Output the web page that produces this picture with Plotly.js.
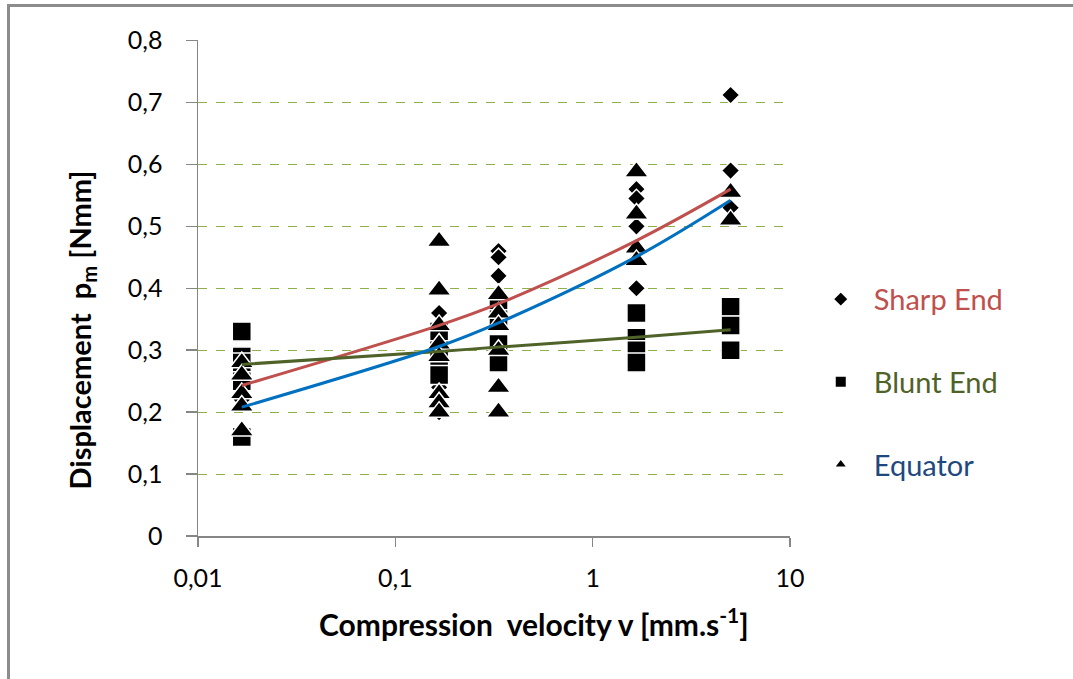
<!DOCTYPE html>
<html><head><meta charset="utf-8">
<script src="https://cdn.plot.ly/plotly-3.0.1.min.js"></script>
<style>
html,body{margin:0;padding:0;background:#fff;overflow:hidden;}
#frame{position:absolute;left:7px;top:4px;width:1063px;height:672px;border-top:3px solid #8c8c8c;border-left:3px solid #8c8c8c;}
#chart{position:absolute;left:0;top:0;width:1073px;height:679px;}
</style></head>
<body>
<div id="frame"></div>
<div id="chart"></div>
<script>
// compression velocities [mm/s]
const velocities = [1/60, 1/6, 1/3, 5/3, 5];

// measured points (x, y) per series
const sharpX = [1/60,1/60,1/60,1/60, 1/6,1/6,1/6,1/6,1/6, 1/3,1/3,1/3,1/3, 5/3,5/3,5/3,5/3, 5,5,5];
const sharpY = [0.29,0.25,0.22,0.17, 0.36,0.33,0.29,0.24,0.20, 0.46,0.45,0.42,0.38, 0.56,0.545,0.50,0.40, 0.712,0.59,0.53];

const bluntX = [1/60,1/60,1/60,1/60,1/60, 1/6,1/6,1/6,1/6, 1/3,1/3,1/3,1/3, 5/3,5/3,5/3,5/3, 5,5,5];
const bluntY = [0.33,0.29,0.28,0.25,0.16, 0.33,0.30,0.27,0.26, 0.37,0.35,0.31,0.28, 0.36,0.32,0.30,0.28, 0.37,0.34,0.30];

const equatorX = [1/60,1/60,1/60,1/60,1/60, 1/6,1/6,1/6,1/6,1/6,1/6,1/6,1/6, 1/3,1/3,1/3,1/3,1/3,1/3, 5/3,5/3,5/3,5/3, 5,5];
const equatorY = [0.28,0.26,0.23,0.21,0.17, 0.476,0.397,0.34,0.31,0.29,0.23,0.215,0.20, 0.39,0.36,0.34,0.30,0.24,0.20, 0.588,0.52,0.465,0.445, 0.555,0.51];

// trend lines read at each velocity
const sharpTrend   = [0.243, 0.340, 0.375, 0.477, 0.560];
const bluntTrend   = [0.277, 0.298, 0.305, 0.321, 0.333];
const equatorTrend = [0.208, 0.306, 0.344, 0.451, 0.542];

const xTickVals = [0.01, 0.1, 1, 10];
const xTickText = ['0,01', '0,1', '1', '10'];
const yTickVals = [0, 0.1, 0.2, 0.3, 0.4, 0.5, 0.6, 0.7, 0.8];
const yTickText = ['0', '0,1', '0,2', '0,3', '0,4', '0,5', '0,6', '0,7', '0,8'];

const FONT = 'Lato, "Open Sans", sans-serif';
const outline = {color: '#ffffff', width: 1.5};

const traces = [
  {x: sharpX, y: sharpY, mode: 'markers', type: 'scatter', legendgroup: 'a',
   name: '<span style="color:#C0504D">Sharp End</span>',
   marker: {symbol: 'diamond', size: 14, color: '#000', line: outline}},
  {x: bluntX, y: bluntY, mode: 'markers', type: 'scatter', legendgroup: 'b',
   name: '<span style="color:#4F6228">Blunt End</span>',
   marker: {symbol: 'square', size: 19, color: '#000', line: outline}},
  {x: equatorX, y: equatorY, mode: 'markers', type: 'scatter', legendgroup: 'c',
   name: '<span style="color:#1F497D">Equator</span>',
   marker: {symbol: 'triangle-up', size: 21, color: '#000', line: outline}},
  {x: velocities, y: sharpTrend, mode: 'lines', type: 'scatter', showlegend: false,
   line: {color: '#C0504D', width: 3, shape: 'spline'}},
  {x: velocities, y: bluntTrend, mode: 'lines', type: 'scatter', showlegend: false,
   line: {color: '#4F6228', width: 3, shape: 'spline'}},
  {x: velocities, y: equatorTrend, mode: 'lines', type: 'scatter', showlegend: false,
   line: {color: '#0070C0', width: 3, shape: 'spline'}}
];

const layout = {
  width: 1073, height: 679,
  paper_bgcolor: 'rgba(0,0,0,0)', plot_bgcolor: 'rgba(0,0,0,0)',
  margin: {l: 198, r: 283, t: 40, b: 143},
  font: {family: FONT, color: '#000'},
  separators: ',.',
  showlegend: true,
  legend: {x: 1.03, y: 0.31, xanchor: 'left', yanchor: 'middle',
    font: {family: FONT, size: 29}, traceorder: 'grouped', tracegroupgap: 42,
    itemsizing: 'constant', itemwidth: 56, bgcolor: 'rgba(0,0,0,0)'},
  xaxis: {type: 'log', range: [-2, 1], tickvals: xTickVals, ticktext: xTickText,
    showgrid: false, zeroline: false, showline: true, linecolor: '#868686', linewidth: 1.5,
    ticks: 'outside', ticklen: 9, tickcolor: '#868686', tickwidth: 1.5,
    ticklabelstandoff: 10,
    tickfont: {family: FONT, size: 25, color: '#000'}},
  yaxis: {range: [0, 0.8008], tickvals: yTickVals, ticktext: yTickText,
    showgrid: true, gridcolor: '#8DB04A', griddash: 'dash', gridwidth: 1,
    zeroline: false, showline: true, linecolor: '#868686', linewidth: 1.5,
    ticks: 'outside', ticklen: 11, tickcolor: '#868686', tickwidth: 1.5,
    ticklabelstandoff: 18,
    tickfont: {family: FONT, size: 25, color: '#000'}},
  annotations: [
    {text: '<b>Compression  velocity v [mm.s<sup>-1</sup>]</b>', xref: 'paper', yref: 'paper',
     x: 0.5676, y: -0.174, xanchor: 'center', yanchor: 'middle', showarrow: false,
     font: {family: FONT, size: 30, color: '#000'}},
    {text: '<b>Displacement&nbsp;&nbsp;p<sub>m</sub> [Nmm]</b>', xref: 'paper', yref: 'paper',
     x: -0.197, y: 0.415, xanchor: 'center', yanchor: 'middle', showarrow: false, textangle: -90,
     font: {family: FONT, size: 29, color: '#000'}}
  ]
};

Plotly.newPlot('chart', traces, layout, {displayModeBar: false, staticPlot: true});
</script>
</body></html>
